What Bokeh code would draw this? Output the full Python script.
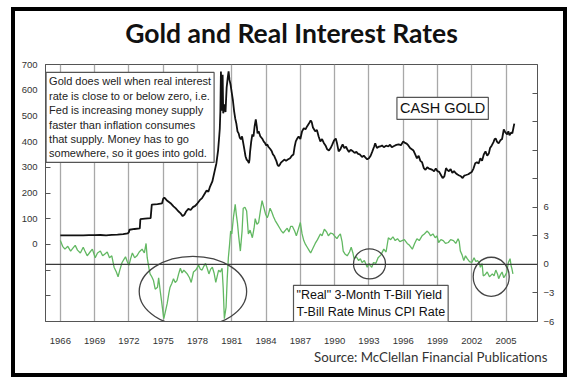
from bokeh.plotting import figure
from bokeh.models import (Range1d, LinearAxis, FixedTicker, Span, Label, Title)
from bokeh.embed import file_html
from bokeh.resources import INLINE

# ---------------- data ----------------
gold_year = [1966.0, 1967.0, 1968.0, 1968.5, 1969.0, 1969.5, 1970.0, 1970.5, 1971.0, 1971.5,
             1971.9, 1972.0, 1972.05, 1972.5, 1972.95, 1973.0, 1973.4, 1973.9, 1974.0, 1974.5,
             1974.9, 1975.0, 1975.1, 1975.3, 1975.5, 1975.7, 1975.9, 1976.1, 1976.3, 1976.5,
             1976.7, 1976.85, 1977.0, 1977.2, 1977.4, 1977.6, 1977.8, 1978.0, 1978.2, 1978.4,
             1978.6, 1978.8, 1978.95, 1979.1, 1979.3, 1979.5, 1979.65, 1979.8, 1979.9, 1979.95,
             1980.0, 1980.05, 1980.1, 1980.15, 1980.2, 1980.25, 1980.35, 1980.45, 1980.55, 1980.65,
             1980.72, 1980.8, 1980.9, 1981.0, 1981.1, 1981.2, 1981.3, 1981.4, 1981.5, 1981.6,
             1981.7, 1981.8, 1981.9, 1982.0, 1982.1, 1982.2, 1982.3, 1982.4, 1982.5, 1982.55,
             1982.6, 1982.7, 1982.8, 1982.9, 1983.0, 1983.1, 1983.2, 1983.25, 1983.35, 1983.5,
             1983.6, 1983.7, 1983.8, 1983.9, 1984.0, 1984.1, 1984.2, 1984.35, 1984.5, 1984.6,
             1984.7, 1984.8, 1984.9, 1985.0, 1985.1, 1985.2, 1985.3, 1985.45, 1985.6, 1985.75,
             1985.9, 1986.1, 1986.25, 1986.4, 1986.5, 1986.6, 1986.7, 1986.85, 1987.0, 1987.15,
             1987.3, 1987.45, 1987.6, 1987.75, 1987.9, 1988.0, 1988.1, 1988.3, 1988.45, 1988.6,
             1988.75, 1988.9, 1989.05, 1989.2, 1989.35, 1989.5, 1989.65, 1989.8, 1989.95, 1990.1,
             1990.2, 1990.35, 1990.5, 1990.6, 1990.7, 1990.85, 1991.0, 1991.1, 1991.25, 1991.4,
             1991.6, 1991.75, 1991.9, 1992.05, 1992.2, 1992.4, 1992.55, 1992.7, 1992.85, 1993.0,
             1993.15, 1993.3, 1993.45, 1993.55, 1993.7, 1993.85, 1994.0, 1994.15, 1994.3, 1994.5,
             1994.7, 1994.85, 1995.0, 1995.2, 1995.4, 1995.6, 1995.8, 1996.0, 1996.15, 1996.3,
             1996.45, 1996.6, 1996.75, 1996.9, 1997.05, 1997.2, 1997.35, 1997.5, 1997.65, 1997.8,
             1997.95, 1998.1, 1998.25, 1998.4, 1998.55, 1998.7, 1998.85, 1999.0, 1999.15, 1999.3,
             1999.45, 1999.6, 1999.75, 1999.85, 2000.0, 2000.15, 2000.3, 2000.45, 2000.6, 2000.75,
             2000.9, 2001.05, 2001.2, 2001.35, 2001.5, 2001.7, 2001.85, 2002.0, 2002.15, 2002.3,
             2002.45, 2002.6, 2002.75, 2002.9, 2003.05, 2003.2, 2003.35, 2003.5, 2003.6, 2003.75,
             2003.9, 2004.0, 2004.1, 2004.2, 2004.35, 2004.5, 2004.65, 2004.8, 2004.95, 2005.1,
             2005.2, 2005.3, 2005.45, 2005.55, 2005.65, 2005.72]
gold_price = [35, 35, 35.5, 36, 36, 36.5, 35.5, 37, 38, 40,
              43, 48, 57, 60, 62, 98, 100, 102, 155, 157,
              160, 178, 182, 172, 165, 158, 148, 140, 130, 122,
              110, 115, 128, 138, 134, 145, 150, 160, 172, 180,
              195, 210, 205, 225, 245, 285, 315, 365, 420, 450,
              517, 673, 600, 520, 660, 510, 545, 515, 610, 650,
              673, 640, 620, 590, 560, 520, 490, 470, 440, 432,
              415, 409, 420, 395, 370, 343, 330, 325, 316, 330,
              360, 400, 428, 420, 460, 486, 455, 432, 440, 420,
              415, 409, 400, 395, 385, 389, 380, 372, 362, 350,
              345, 335, 325, 310, 304, 310, 318, 324, 330, 325,
              330, 335, 345, 350, 380, 401, 410, 420, 410, 440,
              452, 448, 460, 470, 482, 475, 455, 440, 445, 420,
              401, 410, 395, 385, 370, 365, 375, 389, 405, 412,
              395, 362, 370, 380, 389, 375, 380, 370, 360, 368,
              362, 356, 360, 352, 350, 340, 345, 338, 331, 335,
              345, 362, 380, 393, 375, 380, 381, 385, 378, 384,
              381, 388, 378, 383, 387, 389, 386, 401, 395, 392,
              385, 375, 370, 365, 350, 335, 345, 325, 320, 297,
              290, 300, 295, 293, 290, 285, 295, 285, 282, 270,
              258, 265, 297, 290, 285, 293, 278, 285, 277, 272,
              268, 265, 258, 268, 270, 273, 278, 282, 295, 316,
              320, 315, 335, 325, 350, 362, 345, 355, 375, 385,
              398, 410, 412, 400, 393, 405, 410, 447, 435, 428,
              440, 425, 435, 432, 455, 470]

rate_year = [1966.0, 1966.2, 1966.4, 1966.65, 1966.9, 1967.1, 1967.3, 1967.5, 1967.75, 1968.0,
             1968.15, 1968.35, 1968.6, 1968.8, 1969.05, 1969.25, 1969.5, 1969.7, 1969.9, 1970.1,
             1970.3, 1970.5, 1970.7, 1970.9, 1971.05, 1971.2, 1971.4, 1971.55, 1971.7, 1971.85,
             1972.0, 1972.15, 1972.3, 1972.5, 1972.7, 1972.9, 1973.15, 1973.35, 1973.5, 1973.6,
             1973.75, 1973.85, 1974.0, 1974.15, 1974.3, 1974.5, 1974.6, 1974.75, 1974.85, 1975.05,
             1975.2, 1975.35, 1975.5, 1975.6, 1975.75, 1975.9, 1976.05, 1976.2, 1976.35, 1976.5,
             1976.65, 1976.8, 1976.95, 1977.1, 1977.3, 1977.45, 1977.65, 1977.85, 1978.1, 1978.25,
             1978.4, 1978.55, 1978.7, 1978.85, 1979.0, 1979.15, 1979.3, 1979.45, 1979.6, 1979.75,
             1979.85, 1980.0, 1980.15, 1980.25, 1980.35, 1980.5, 1980.6, 1980.7, 1980.8, 1980.9,
             1981.0, 1981.15, 1981.3, 1981.4, 1981.5, 1981.6, 1981.75, 1981.9, 1982.0, 1982.15,
             1982.3, 1982.45, 1982.6, 1982.8, 1982.95, 1983.05, 1983.2, 1983.35, 1983.5, 1983.65,
             1983.8, 1983.95, 1984.1, 1984.2, 1984.35, 1984.5, 1984.65, 1984.8, 1985.0, 1985.2,
             1985.35, 1985.5, 1985.7, 1985.85, 1986.0, 1986.15, 1986.3, 1986.5, 1986.65, 1986.8,
             1987.0, 1987.15, 1987.3, 1987.45, 1987.6, 1987.75, 1987.9, 1988.1, 1988.3, 1988.5,
             1988.75, 1988.9, 1989.1, 1989.3, 1989.45, 1989.65, 1989.85, 1990.05, 1990.2, 1990.35,
             1990.5, 1990.65, 1990.75, 1990.9, 1991.1, 1991.3, 1991.45, 1991.6, 1991.7, 1991.9,
             1992.1, 1992.25, 1992.4, 1992.6, 1992.85, 1993.0, 1993.1, 1993.25, 1993.4, 1993.6,
             1993.8, 1994.05, 1994.3, 1994.5, 1994.7, 1994.9, 1995.1, 1995.3, 1995.5, 1995.7,
             1995.9, 1996.1, 1996.35, 1996.55, 1996.8, 1997.0, 1997.2, 1997.4, 1997.65, 1997.85,
             1998.1, 1998.25, 1998.4, 1998.6, 1998.8, 1998.95, 1999.1, 1999.3, 1999.5, 1999.7,
             1999.95, 2000.15, 2000.4, 2000.6, 2000.8, 2000.9, 2001.0, 2001.15, 2001.3, 2001.45,
             2001.6, 2001.8, 2002.0, 2002.2, 2002.35, 2002.5, 2002.65, 2002.75, 2002.9, 2003.0,
             2003.15, 2003.35, 2003.55, 2003.8, 2003.95, 2004.1, 2004.25, 2004.35, 2004.5, 2004.65,
             2004.8, 2004.9, 2005.05, 2005.2, 2005.35, 2005.45, 2005.5, 2005.6]
real_rate = [2.5, 1.9, 1.6, 1.9, 1.4, 1.7, 2.0, 1.5, 1.2, 1.8,
             1.4, 0.9, 1.3, 1.6, 0.7, 1.2, 1.4, 0.9, 1.1, 1.3,
             0.7, 0.9, -0.3, -0.8, -1.3, -0.6, 0.2, 0.5, 0.8, 0.3,
             -0.1, 0.6, 1.2, 0.7, 0.9, 1.3, 1.6, 1.2, 2.2, 0.7,
             -0.4, -1.0, -1.3, -1.7, -2.6, -2.4, -1.4, -2.9, -3.8, -5.7,
             -4.9, -4.1, -3.0, -2.4, -2.0, -1.5, -1.9, -1.7, -1.0, -0.4,
             -0.9, -0.6, -0.8, -1.0, -1.4, -1.9, -0.8, -0.6, -0.1, -0.5,
             -0.6, -0.2, 0.1, -0.4, -1.0, -0.5, -0.3, -0.9, -1.9, -1.1,
             -0.6, -0.8, -0.4, -2.5, -5.7, -4.5, -1.5, 0.7, 2.0, 3.5,
             3.2, 5.0, 6.3, 5.2, 4.3, 3.0, 1.4, 3.5, 5.9, 6.0,
             5.6, 3.2, 3.6, 2.8, 3.8, 4.8, 4.2, 4.4, 5.6, 6.7,
             6.0, 5.3, 4.9, 5.2, 5.9, 5.5, 5.0, 4.6, 4.2, 3.8,
             3.5, 3.3, 3.6, 3.8, 3.4, 4.0, 4.0, 3.5, 3.0, 3.6,
             4.4, 3.2, 2.5, 2.1, 1.8, 1.5, 1.2, 1.7, 2.2, 2.6,
             3.2, 3.0, 3.7, 3.4, 3.0, 3.3, 3.2, 2.9, 2.7, 3.0,
             3.2, 2.4, 1.4, 1.1, 0.9, 1.3, 1.8, 1.2, 0.6, 0.8,
             0.4, 0.6, 0.2, 0.4, -0.3, 0.1, -0.1, -0.3, 0.2, 0.1,
             0.7, 1.0, 1.6, 1.3, 2.8, 2.6, 2.9, 2.5, 2.7, 2.4,
             2.5, 2.6, 2.2, 2.0, 1.6, 2.2, 2.7, 2.5, 3.0, 3.2,
             3.5, 3.3, 3.0, 3.2, 2.8, 3.0, 2.3, 2.6, 2.5, 2.2,
             2.3, 2.6, 2.5, 2.2, 2.7, 2.4, 1.4, 1.0, 0.4, 0.9,
             0.6, 0.3, 0.2, 0.7, 0.3, 0.4, 0.2, -0.3, 0.1, -1.2,
             -1.1, -0.8, -1.3, -1.0, -1.2, -0.6, -1.0, -1.5, -1.1, -0.8,
             -1.4, -1.2, -0.9, 0.2, 0.6, -0.2, -0.4, -1.0]

year_ticks = [1966, 1969, 1972, 1975, 1978, 1981, 1984, 1987, 1990, 1993, 1996, 1999, 2002, 2005]
gold_ticks = [-200, -100, 0, 100, 200, 300, 400, 500, 600, 700]
rate_ticks = [-6, -3, 0, 3, 6, 9, 12, 15, 18]

# circled periods: (centre year, centre rate, width in years, height in rate units)
circle_year = [1977.6, 1993.05, 2003.7]
circle_rate = [-2.85, 0.05, -1.3]
circle_w = [9.4, 2.8, 3.15]
circle_h = [7.4, 3.15, 4.1]

note_text = ("Gold does well when real interest\nrate is close to or below zero, i.e.\n"
             "Fed is increasing money supply\nfaster than inflation consumes\n"
             "that supply.  Money has to go\nsomewhere, so it goes into gold.")
gold_label = "CASH GOLD"
rate_label = "\"Real\" 3-Month T-Bill Yield\nT-Bill Rate Minus CPI Rate"
source_text = "Source: McClellan Financial Publications"

# ---------------- figure ----------------
FONT = "Liberation Sans"
p = figure(width=556, height=370, output_backend="svg", toolbar_location=None,
           x_range=Range1d(1964.7, 2007.75), y_range=Range1d(-300, 700),
           min_border_left=30, min_border_right=34, min_border_top=52, min_border_bottom=60,
           background_fill_color="white", border_fill_color=None)
p.styles = {"border": "4px solid black", "margin-left": "11px", "margin-top": "7px"}
p.extra_y_ranges = {"rate": Range1d(-6, 21)}

p.title.text = "Gold and Real Interest Rates"
p.title.align = "center"
p.title.vertical_align = "top"
p.title.text_font = "Lato"
p.title.text_font_style = "bold"
p.title.text_font_size = "26.5px"
p.title.text_color = "#111111"
p.title.standoff = 10

# small spacer between the title and the plot frame
p.add_layout(Title(text=" ", text_font_size="1px", standoff=6), "above")

p.outline_line_color = "#555555"
p.outline_line_width = 1

# axes
p.xaxis.ticker = FixedTicker(ticks=year_ticks)
p.xaxis.major_label_overrides = {y: str(y) for y in year_ticks}
p.xaxis.major_tick_line_color = None
p.xaxis.minor_tick_line_color = None
p.xaxis.axis_line_color = "#555555"
p.xaxis.major_label_standoff = 10
p.xaxis.major_label_text_font = FONT
p.xaxis.major_label_text_font_size = "9.5px"
p.xaxis.major_label_text_color = "#333333"

p.yaxis.ticker = FixedTicker(ticks=gold_ticks)
p.yaxis.major_label_overrides = {-200: "", -100: ""}
p.yaxis.major_tick_in = 5
p.yaxis.major_tick_out = 0
p.yaxis.minor_tick_line_color = None
p.yaxis.axis_line_color = "#555555"
p.yaxis.major_tick_line_color = "#555555"
p.yaxis.major_label_standoff = 8
p.yaxis.major_label_text_font = FONT
p.yaxis.major_label_text_font_size = "9.5px"
p.yaxis.major_label_text_color = "#333333"

raxis = LinearAxis(y_range_name="rate", ticker=FixedTicker(ticks=rate_ticks))
raxis.major_label_overrides = {9: "", 12: "", 15: "", 18: ""}
raxis.major_tick_in = 5
raxis.major_tick_out = 0
raxis.minor_tick_line_color = None
raxis.axis_line_color = "#555555"
raxis.major_tick_line_color = "#555555"
raxis.major_label_standoff = 6
raxis.major_label_text_font = FONT
raxis.major_label_text_font_size = "9.5px"
raxis.major_label_text_color = "#333333"
p.add_layout(raxis, "right")

p.xgrid.ticker = FixedTicker(ticks=year_ticks)
p.xgrid.grid_line_color = "#a8a8a8"
p.xgrid.grid_line_width = 1.3
p.ygrid.grid_line_color = None

# zero line of real rate
p.add_layout(Span(location=0, dimension="width", y_range_name="rate",
                  line_color="#3a3a3a", line_width=1.3))

# series
p.line(rate_year, real_rate, y_range_name="rate", line_color="#62b862", line_width=1.3)
p.line(gold_year, gold_price, line_color="#111111", line_width=1.8)

# circles
p.ellipse(x=circle_year, y=circle_rate, width=circle_w, height=circle_h, y_range_name="rate",
          fill_color=None, line_color="#444444", line_width=1.3)

# text boxes
p.add_layout(Label(x=1964.75, y=669, text=note_text, text_font=FONT, text_font_size="11px",
                   text_color="#222222", text_line_height=1.2, anchor="top_left",
                   padding=3, background_fill_color="white", border_line_color="#555555",
                   border_line_width=1.2))
p.add_layout(Label(x=1995.45, y=572, text=gold_label, text_font=FONT, text_font_size="14.5px",
                   text_color="#111111", anchor="top_left", padding=3,
                   background_fill_color="white", border_line_color="#555555",
                   border_line_width=1.2))
p.add_layout(Label(x=1986.4, y=-2.2, y_range_name="rate", text=rate_label, text_font=FONT,
                   text_font_size="12.5px", text_color="#111111", text_line_height=1.2,
                   anchor="top_left", padding=3, background_fill_color="white",
                   border_line_color="#555555", border_line_width=1.2))

p.add_layout(Title(text=source_text, align="right", offset=-10, standoff=0,
                   text_font="Lato", text_font_size="13.3px", text_font_style="normal",
                   text_color="#333333"), "below")

open("out.html", "w").write(file_html(p, INLINE))
